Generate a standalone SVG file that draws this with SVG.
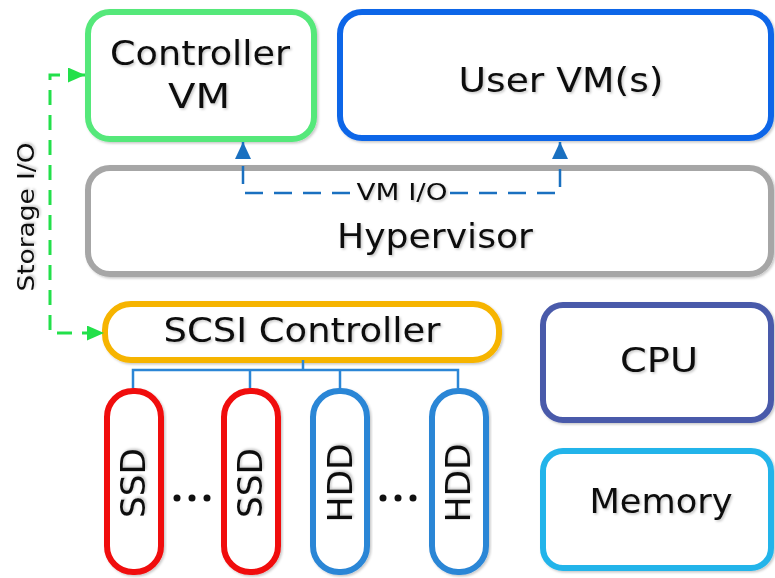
<svg xmlns="http://www.w3.org/2000/svg" width="775" height="578" viewBox="0 0 775 578">
  <defs>
    <filter id="sh" x="-10%" y="-10%" width="120%" height="130%">
      <feDropShadow dx="1.5" dy="1.5" stdDeviation="1" flood-color="#000" flood-opacity="0.22"/>
    </filter>
    <marker id="ag" markerUnits="userSpaceOnUse" markerWidth="17" markerHeight="15" refX="17" refY="7.5" orient="auto-start-reverse">
      <path d="M0,0 L17,7.5 L0,15 z" fill="#22e04a"/>
    </marker>
    <marker id="ab" markerUnits="userSpaceOnUse" markerWidth="17" markerHeight="16" refX="17" refY="8" orient="auto">
      <path d="M0,0 L17,8 L0,16 z" fill="#1a70c0"/>
    </marker>
  </defs>
  <style>
    .box { fill: #fff; stroke-width: 6; filter: url(#sh); }
    .lbl { font-family: "DejaVu Sans", "Liberation Sans", sans-serif; fill: #111; text-anchor: middle; filter: url(#sh); }
    .big { font-size: 33px; }
    .mid { font-size: 23px; }
    .disk { font-size: 34px; }
    .tree { fill: none; stroke: #2b86d6; stroke-width: 2.5; }
    .dot { fill: #111; }
  </style>

  <g id="controller-vm">
    <rect class="box" x="88" y="12" width="226" height="127" rx="22" stroke="#55e87a"/>
    <text class="lbl big" x="200" y="65" textLength="180" lengthAdjust="spacingAndGlyphs">Controller</text>
    <text class="lbl big" x="199" y="108" textLength="62" lengthAdjust="spacingAndGlyphs">VM</text>
  </g>

  <g id="user-vms">
    <rect class="box" x="340" y="12" width="431" height="126" rx="22" stroke="#0f66e8"/>
    <text class="lbl big" x="561" y="92" textLength="205" lengthAdjust="spacingAndGlyphs">User VM(s)</text>
  </g>

  <g id="hypervisor">
    <rect class="box" x="88" y="168" width="683" height="106" rx="22" stroke="#a6a6a6"/>
    <text class="lbl big" x="435" y="248" textLength="196" lengthAdjust="spacingAndGlyphs">Hypervisor</text>
  </g>

  <g id="scsi-controller">
    <rect class="box" x="105" y="304" width="394" height="56" rx="26" stroke="#f6b400"/>
    <text class="lbl big" x="302" y="342" textLength="277" lengthAdjust="spacingAndGlyphs">SCSI Controller</text>
  </g>

  <g id="ssd-1">
    <rect class="box" x="107" y="391" width="54" height="181" rx="26" stroke="#f00a0a"/>
    <text class="lbl disk" transform="translate(145,483) rotate(-90)" x="0" y="0" textLength="70" lengthAdjust="spacingAndGlyphs">SSD</text>
  </g>

  <g id="ssd-2">
    <rect class="box" x="224" y="391" width="54" height="181" rx="26" stroke="#f00a0a"/>
    <text class="lbl disk" transform="translate(262,483) rotate(-90)" x="0" y="0" textLength="70" lengthAdjust="spacingAndGlyphs">SSD</text>
  </g>

  <g id="hdd-1">
    <rect class="box" x="313" y="391" width="54" height="181" rx="26" stroke="#2b86d6"/>
    <text class="lbl disk" transform="translate(352,483) rotate(-90)" x="0" y="0" textLength="79" lengthAdjust="spacingAndGlyphs">HDD</text>
  </g>

  <g id="hdd-2">
    <rect class="box" x="432" y="391" width="54" height="181" rx="26" stroke="#2b86d6"/>
    <text class="lbl disk" transform="translate(470,483) rotate(-90)" x="0" y="0" textLength="79" lengthAdjust="spacingAndGlyphs">HDD</text>
  </g>

  <g id="ellipses">
    <circle class="dot" cx="177" cy="498" r="3.5"/>
    <circle class="dot" cx="192" cy="498" r="3.5"/>
    <circle class="dot" cx="207" cy="498" r="3.5"/>
    <circle class="dot" cx="383" cy="498" r="3.5"/>
    <circle class="dot" cx="398" cy="498" r="3.5"/>
    <circle class="dot" cx="413" cy="498" r="3.5"/>
  </g>

  <g id="cpu">
    <rect class="box" x="543" y="305" width="228" height="115" rx="20" stroke="#4a5aaa"/>
    <text class="lbl big" x="659" y="372" textLength="78" lengthAdjust="spacingAndGlyphs">CPU</text>
  </g>

  <g id="memory">
    <rect class="box" x="543" y="451" width="228" height="117" rx="20" stroke="#22b4ea"/>
    <text class="lbl big" x="661" y="513" textLength="143" lengthAdjust="spacingAndGlyphs">Memory</text>
  </g>

  <g id="connectors">
    <path d="M85,75 H50 V333 H104" fill="none" stroke="#22e04a" stroke-width="3" stroke-dasharray="15,10" marker-start="url(#ag)" marker-end="url(#ag)"/>
    <path d="M350,193 H243 V142" fill="none" stroke="#1a70c0" stroke-width="2.5" stroke-dasharray="18,11" marker-end="url(#ab)"/>
    <path d="M450,193 H560 V142" fill="none" stroke="#1a70c0" stroke-width="2.5" stroke-dasharray="18,11" marker-end="url(#ab)"/>
    <path class="tree" d="M303,360 V370 M133,388 V370 H458 V388 M250,370 V388 M340,370 V388"/>
    <text class="lbl mid" x="402" y="200" textLength="91" lengthAdjust="spacingAndGlyphs">VM I/O</text>
    <text class="lbl mid" transform="translate(34,217) rotate(-90)" x="0" y="0" textLength="149" lengthAdjust="spacingAndGlyphs">Storage I/O</text>
  </g>
</svg>
